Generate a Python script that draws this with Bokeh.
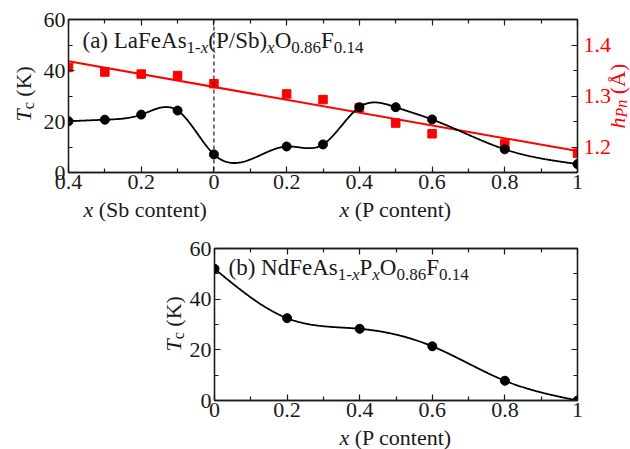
import numpy as np
from bokeh.plotting import figure
from bokeh.models import (Range1d, LinearAxis, FixedTicker, Label, Span, CustomJSTickFormatter,
                          CustomLabelingPolicy, Spacer)
from bokeh.layouts import column, row
from bokeh.embed import file_html
from bokeh.resources import INLINE

# ---------------- data ----------------
# panel (a): negative x = Sb content, positive x = P content
la_x = [-0.4, -0.3, -0.2, -0.1, 0.0, 0.2, 0.3, 0.4, 0.5, 0.6, 0.8, 1.0]
la_tc = [20.1, 20.7, 22.7, 24.3, 7.1, 10.2, 11.0, 25.6, 25.6, 20.8, 9.1, 3.3]
la_h = [1.356, 1.347, 1.343, 1.340, 1.324, 1.304, 1.293, 1.277, 1.247, 1.226, 1.206, 1.188]
fit_x = [-0.4, 1.0]
fit_h = [1.368, 1.192]
# panel (b)
nd_x = [0.0, 0.2, 0.4, 0.6, 0.8, 1.0]
nd_tc = [52.0, 32.5, 28.3, 21.4, 7.8, 0.0]

x_ticks_a = [-0.4, -0.2, 0.0, 0.2, 0.4, 0.6, 0.8, 1.0]
x_minor_a = [-0.3, -0.1, 0.1, 0.3, 0.5, 0.7, 0.9]
x_ticks_b = [0.0, 0.2, 0.4, 0.6, 0.8, 1.0]
x_minor_b = [0.1, 0.3, 0.5, 0.7, 0.9]
tc_ticks = [0, 20, 40, 60]
tc_minor = [10, 30, 50]
h_ticks = [1.2, 1.3, 1.4]
h_minor = [1.25, 1.35]

FONT = "Liberation Serif"
INK = "#1a1a1a"
RED = "#ff0000"


def natural_spline(x, y, n=500):
    x = np.asarray(x, float)
    y = np.asarray(y, float)
    m = len(x)
    h = np.diff(x)
    A = np.zeros((m, m))
    r = np.zeros(m)
    A[0, 0] = A[-1, -1] = 1.0
    for i in range(1, m - 1):
        A[i, i - 1] = h[i - 1]
        A[i, i] = 2 * (h[i - 1] + h[i])
        A[i, i + 1] = h[i]
        r[i] = 6 * ((y[i + 1] - y[i]) / h[i] - (y[i] - y[i - 1]) / h[i - 1])
    M = np.linalg.solve(A, r)
    xs = np.linspace(x[0], x[-1], n)
    idx = np.clip(np.searchsorted(x, xs) - 1, 0, m - 2)
    x0, x1 = x[idx], x[idx + 1]
    hh = x1 - x0
    t0, t1 = x1 - xs, xs - x0
    ys = (M[idx] * t0 ** 3 / (6 * hh) + M[idx + 1] * t1 ** 3 / (6 * hh)
          + (y[idx] / hh - M[idx] * hh / 6) * t0 + (y[idx + 1] / hh - M[idx + 1] * hh / 6) * t1)
    return xs, ys


# Times / Liberation Serif advance widths (per 1000 em)
REG = {'(': 333, ')': 333, ' ': 250, 'a': 444, 'b': 500, 'L': 611, 'F': 556, 'e': 444, 'A': 722,
       's': 389, '1': 500, '-': 333, 'P': 556, '/': 278, 'S': 556, 'O': 722, '0': 500, '.': 250,
       '8': 500, '6': 500, '4': 500, 'N': 722, 'd': 500, 'K': 722, 'c': 444, 'o': 500, 'n': 500,
       't': 278, 'Å': 722}
ITA = {'x': 444, 'T': 556, 'h': 500, 'P': 611, 'n': 500}


def width(text, size, style):
    tab = ITA if style == "italic" else REG
    return sum(tab.get(ch, 500) for ch in text) * size / 1000.0


def fmt():
    return CustomJSTickFormatter(code="return String(Math.round(Math.abs(tick)*10)/10);")


def hide_policy():
    return CustomLabelingPolicy(code="for (const i of indices) { indices.unset(i) }\nreturn indices")


def style_axis(ax, labels=True, size="22px", color=INK, standoff=3):
    ax.axis_line_color = INK
    ax.axis_line_width = 1.3
    ax.major_tick_line_color = INK
    ax.minor_tick_line_color = INK
    ax.major_tick_line_width = 1.2
    ax.minor_tick_line_width = 1.2
    ax.major_tick_in = 6
    ax.major_tick_out = 0
    ax.minor_tick_in = 4
    ax.minor_tick_out = 0
    ax.major_label_text_font = FONT
    ax.major_label_text_color = color
    ax.major_label_standoff = standoff
    if labels:
        ax.major_label_text_font_size = size
    else:
        ax.major_label_text_font_size = "1px"
        ax.major_label_standoff = 0
        ax.major_label_policy = hide_policy()


def make_fig(width_, height, left, right, top, bottom, xr, yr):
    p = figure(width=width_, height=height, x_range=xr, y_range=yr, output_backend="svg",
               toolbar_location=None, min_border_left=left, min_border_right=right,
               min_border_top=top, min_border_bottom=bottom)
    p.grid.visible = False
    p.outline_line_color = INK
    p.outline_line_width = 1.3
    p.background_fill_color = "white"
    p.border_fill_color = "white"
    return p


# ---------------- panel (a) ----------------
p1 = make_fig(630, 225, 68, 53, 19, 53, Range1d(-0.4, 1.0), Range1d(0, 60))
p1.extra_y_ranges = {"h": Range1d(1.15, 1.45)}

xa = p1.xaxis[0]
xa.ticker = FixedTicker(ticks=x_ticks_a, minor_ticks=x_minor_a)
xa.formatter = fmt()
style_axis(xa, standoff=2)
ya = p1.yaxis[0]
ya.ticker = FixedTicker(ticks=tc_ticks, minor_ticks=tc_minor)
style_axis(ya, standoff=3)

top1 = LinearAxis(ticker=FixedTicker(ticks=x_ticks_a, minor_ticks=x_minor_a))
style_axis(top1, labels=False)
p1.add_layout(top1, "above")
right1 = LinearAxis(y_range_name="h", ticker=FixedTicker(ticks=h_ticks, minor_ticks=h_minor))
style_axis(right1, color=RED, standoff=6)
p1.add_layout(right1, "right")

p1.add_layout(Span(location=0, dimension="height", line_color=INK, line_dash="4 3", line_width=1.2))

p1.line(fit_x, fit_h, y_range_name="h", line_color=RED, line_width=2)
p1.scatter(la_x, la_h, y_range_name="h", marker="square", size=8.5, fill_color=RED, line_color=RED)
sx, sy = natural_spline(la_x, la_tc)
p1.line(sx, sy, line_color="black", line_width=1.8)
p1.scatter(la_x, la_tc, marker="circle", size=9, fill_color="black", line_color="black")

# ---------------- panel (b) ----------------
p2 = make_fig(484, 224, 68, 53, 23, 49, Range1d(0, 1.0), Range1d(0, 60))
xb = p2.xaxis[0]
xb.ticker = FixedTicker(ticks=x_ticks_b, minor_ticks=x_minor_b)
xb.formatter = fmt()
style_axis(xb, standoff=2)
yb = p2.yaxis[0]
yb.ticker = FixedTicker(ticks=tc_ticks, minor_ticks=tc_minor)
style_axis(yb, standoff=3)
top2 = LinearAxis(ticker=FixedTicker(ticks=x_ticks_b, minor_ticks=x_minor_b))
style_axis(top2, labels=False)
p2.add_layout(top2, "above")
right2 = LinearAxis(ticker=FixedTicker(ticks=tc_ticks, minor_ticks=tc_minor))
style_axis(right2, labels=False)
p2.add_layout(right2, "right")

bx, by = natural_spline(nd_x, nd_tc)
p2.line(bx, by, line_color="black", line_width=1.8)
p2.scatter(nd_x, nd_tc, marker="circle", size=9, fill_color="black", line_color="black")

layout = column(p1, row(Spacer(width=146, height=224), p2, spacing=0), spacing=0)

# ---------------- text overlay (page pixel coordinates) ----------------
p0 = figure(width=630, height=449, x_range=Range1d(0, 630), y_range=Range1d(449, 0),
            output_backend="svg", toolbar_location=None, min_border=0,
            x_axis_location=None, y_axis_location=None,
            styles={"position": "absolute", "top": "0px", "left": "0px"})
p0.grid.visible = False
p0.outline_line_color = None
p0.background_fill_color = None
p0.border_fill_color = None

BASE_FIX = 0.33  # em offset between requested and drawn alphabetic baseline


def place(pieces, px, py, angle=0.0, color=INK):
    """Lay out rich-text pieces (text, size, style, shift) starting at page pixel (px, py)."""
    for text, size, style, shift in pieces:
        lead = len(text) - len(text.lstrip(" "))
        if lead:
            adv = lead * REG[' '] * size / 1000.0
            if angle == 0.0:
                px += adv
            else:
                py -= adv
            text = text.lstrip(" ")
        fix = BASE_FIX * size
        if angle == 0.0:
            ax, ay = px, py + shift - fix
        else:
            ax, ay = px + shift - fix, py
        p0.add_layout(Label(x=ax, y=ay, text=text, text_font=FONT, text_font_size=f"{size}px",
                            text_font_style=style, text_color=color, angle=angle,
                            text_align="left", text_baseline="alphabetic"))
        w = width(text, size, style)
        if angle == 0.0:
            px += w
        else:
            py -= w


place([("(a) LaFeAs", 23, "normal", 0), ("1-", 17, "normal", 5), ("x", 17, "italic", 5),
       ("(P/Sb)", 23, "normal", 0), ("x", 17, "italic", 5), ("O", 23, "normal", 0),
       ("0.86", 17, "normal", 5), ("F", 23, "normal", 0), ("0.14", 17, "normal", 5)], 82, 48)
place([("x", 22, "italic", 0), (" (Sb content)", 22, "normal", 0)], 83, 216)
place([("x", 22, "italic", 0), (" (P content)", 22, "normal", 0)], 339, 216)
place([("T", 22, "italic", 0), ("c", 16, "normal", 3), (" (K)", 22, "normal", 0)],
      30, 121, angle=np.pi / 2)
place([("h", 22, "italic", 0), ("Pn", 16, "italic", 2), (" (Å)", 22, "normal", 0)],
      624, 128, angle=np.pi / 2, color=RED)

place([("(b) NdFeAs", 23, "normal", 0), ("1-", 17, "normal", 5), ("x", 17, "italic", 5),
       ("P", 23, "normal", 0), ("x", 17, "italic", 5), ("O", 23, "normal", 0),
       ("0.86", 17, "normal", 5), ("F", 23, "normal", 0), ("0.14", 17, "normal", 5)], 228, 275)
place([("x", 22, "italic", 0), (" (P content)", 22, "normal", 0)], 339, 444)
place([("T", 22, "italic", 0), ("c", 16, "normal", 3), (" (K)", 22, "normal", 0)],
      180, 351, angle=np.pi / 2)

open("out.html", "w").write(file_html([layout, p0], INLINE))
